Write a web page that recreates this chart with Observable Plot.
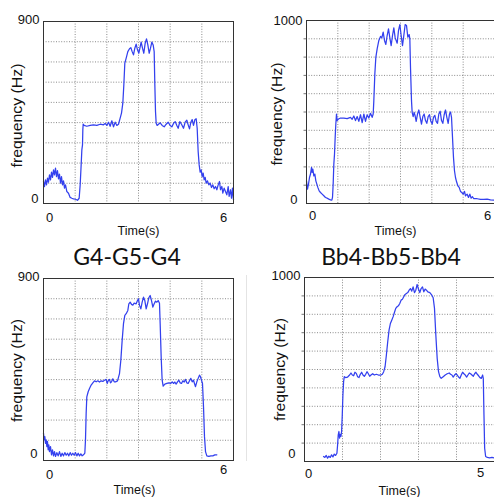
<!DOCTYPE html>
<html><head><meta charset="utf-8">
<script src="https://cdn.jsdelivr.net/npm/d3@7"></script>
<script src="https://cdn.jsdelivr.net/npm/@observablehq/plot@0.6"></script>
<style>
html,body{margin:0;padding:0;background:#fff;}
#root{position:relative;width:494px;height:497px;overflow:hidden;background:#fff;}
.panel{position:absolute;}
.title{position:absolute;font-family:Lato,"Open Sans",sans-serif;font-size:23px;line-height:23px;color:#111;white-space:nowrap;transform:translateX(-50%);}
.sep{position:absolute;left:246px;top:275px;width:1px;height:186px;background:#e4e4e4;}
</style></head><body><div id="root"></div>
<script>
// ---- data (time in s, frequency in Hz) ----
const titles = ["", "", "G4-G5-G4", "Bb4-Bb5-Bb4"];
const xTickLabels = [["0","6"],["0","6"],["0","6"],["0","5"]];
const yTickLabels = [[0,900],[0,1000],[0,900],[0,1000]];
const xGridLines = [[1,2,3,4,5],[1,2,3,4,5],[1,2,3,4,5],[1,2,3,4]];
const yGridLines = [
  [100,200,300,400,500,600,700,800],
  [100,200,300,400,500,600,700,800,900],
  [100,200,300,400,500,600,700,800],
  [100,200,300,400,500,600,700,800,900]
];

const traceA = [[0,109],[0.032,84],[0.063,117],[0.095,92],[0.126,125],[0.158,105],[0.189,142],[0.221,117],[0.253,155],[0.284,129],
[0.316,166],[0.347,142],[0.379,175],[0.411,133],[0.442,162],[0.474,122],[0.505,145],[0.537,101],[0.568,133],[0.6,92],
[0.632,112],[0.663,76],[0.695,92],[0.737,59],[0.789,51],[0.842,30],[0.895,26],[0.947,23],[1.011,21],[1.074,16],
[1.126,26],[1.158,92],[1.189,191],[1.211,265],[1.232,290],[1.242,364],[1.253,392],[1.284,386],[1.368,382],[1.474,386],
[1.579,389],[1.684,386],[1.789,392],[1.895,389],[1.947,396],[2.0,386],[2.053,402],[2.105,382],[2.158,409],[2.211,379],
[2.263,402],[2.316,386],[2.368,392],[2.421,422],[2.463,447],[2.505,496],[2.537,587],[2.568,694],[2.611,719],[2.663,751],
[2.716,765],[2.758,771],[2.8,751],[2.842,735],[2.884,768],[2.926,788],[2.968,760],[3.011,743],[3.053,776],[3.084,798],
[3.126,768],[3.168,743],[3.211,793],[3.253,814],[3.295,784],[3.337,743],[3.379,768],[3.421,798],[3.463,784],[3.495,751],
[3.516,587],[3.537,455],[3.558,397],[3.589,386],[3.632,392],[3.684,399],[3.747,386],[3.811,379],[3.874,392],[3.937,402],
[4.0,386],[4.053,379],[4.105,396],[4.158,405],[4.211,386],[4.253,372],[4.305,405],[4.358,392],[4.421,372],[4.474,402],
[4.526,412],[4.568,389],[4.611,369],[4.653,402],[4.695,415],[4.737,386],[4.779,414],[4.821,419],[4.853,372],[4.884,257],
[4.916,191],[4.947,155],[4.979,166],[5.011,133],[5.042,150],[5.074,117],[5.105,129],[5.137,101],[5.179,112],[5.221,92],
[5.263,101],[5.305,79],[5.347,92],[5.389,73],[5.432,84],[5.474,68],[5.516,92],[5.558,109],[5.589,68],[5.632,84],
[5.663,51],[5.705,76],[5.747,59],[5.789,43],[5.832,84],[5.863,35],[5.905,68],[5.937,26],[5.968,76],[6.0,18]];

const traceB = [[0,124],[0.032,78],[0.064,106],[0.096,142],[0.128,161],[0.16,197],[0.181,170],[0.202,188],[0.234,151],[0.266,161],
[0.298,124],[0.33,106],[0.362,88],[0.404,69],[0.447,60],[0.5,51],[0.553,42],[0.606,33],[0.66,29],[0.713,24],
[0.766,20],[0.809,18],[0.83,33],[0.851,106],[0.872,215],[0.894,270],[0.915,361],[0.936,434],[0.957,489],[0.979,453],
[1.021,462],[1.085,467],[1.191,467],[1.298,464],[1.404,471],[1.457,460],[1.511,478],[1.564,453],[1.617,475],[1.67,449],
[1.723,485],[1.777,442],[1.83,489],[1.883,449],[1.936,485],[1.989,467],[2.043,493],[2.096,471],[2.128,489],[2.149,562],
[2.181,708],[2.213,799],[2.255,845],[2.309,891],[2.362,913],[2.404,905],[2.447,936],[2.489,891],[2.532,869],[2.574,918],
[2.617,954],[2.66,905],[2.702,863],[2.745,918],[2.787,960],[2.83,905],[2.894,876],[2.936,945],[2.979,978],[3.021,918],
[3.064,863],[3.106,918],[3.149,978],[3.191,973],[3.234,909],[3.277,923],[3.298,900],[3.319,745],[3.351,562],[3.372,498],
[3.404,475],[3.436,498],[3.468,478],[3.5,449],[3.543,489],[3.585,511],[3.628,471],[3.67,434],[3.713,475],[3.755,489],
[3.798,453],[3.84,438],[3.883,475],[3.926,485],[3.968,449],[4.011,434],[4.053,471],[4.096,482],[4.138,449],[4.181,438],
[4.223,489],[4.266,504],[4.309,453],[4.351,438],[4.394,485],[4.436,511],[4.479,471],[4.521,438],[4.564,489],[4.596,500],
[4.628,471],[4.66,361],[4.691,252],[4.723,179],[4.755,142],[4.787,120],[4.83,97],[4.872,88],[4.915,66],[4.957,60],
[5.0,51],[5.043,66],[5.074,42],[5.128,51],[5.17,33],[5.213,51],[5.255,29],[5.298,37],[5.34,26],[5.447,26],
[5.553,22],[5.66,22],[5.766,24],[5.872,20],[6.0,18]];

const traceC = [[0,135],[0.021,102],[0.042,118],[0.063,85],[0.084,102],[0.105,69],[0.126,94],[0.147,53],[0.168,77],[0.189,44],
[0.221,69],[0.253,28],[0.284,53],[0.316,23],[0.347,44],[0.379,20],[0.421,39],[0.463,23],[0.505,44],[0.547,20],
[0.589,36],[0.632,23],[0.674,39],[0.716,26],[0.758,36],[0.8,23],[0.842,39],[0.884,26],[0.926,36],[0.968,26],
[1.011,39],[1.053,23],[1.095,36],[1.137,23],[1.179,33],[1.221,23],[1.263,28],[1.305,36],[1.326,102],[1.347,233],
[1.368,315],[1.411,340],[1.453,356],[1.505,373],[1.558,384],[1.611,394],[1.663,389],[1.716,394],[1.768,388],[1.821,394],
[1.874,391],[1.926,397],[1.979,401],[2.011,381],[2.042,394],[2.084,401],[2.116,384],[2.147,389],[2.189,404],[2.232,389],
[2.274,389],[2.337,394],[2.4,430],[2.442,496],[2.484,594],[2.526,677],[2.568,718],[2.611,726],[2.663,742],[2.695,775],
[2.737,783],[2.779,772],[2.821,768],[2.863,778],[2.926,775],[2.968,791],[3.0,800],[3.032,767],[3.074,750],[3.116,783],
[3.158,808],[3.2,791],[3.242,750],[3.284,775],[3.326,805],[3.368,816],[3.411,791],[3.453,759],[3.495,775],[3.537,788],
[3.579,783],[3.621,791],[3.663,778],[3.684,677],[3.716,512],[3.747,397],[3.779,368],[3.832,378],[3.895,381],[3.958,384],
[4.021,381],[4.063,389],[4.105,381],[4.147,388],[4.189,378],[4.232,389],[4.274,397],[4.316,384],[4.358,381],[4.4,394],
[4.442,388],[4.484,401],[4.526,384],[4.568,381],[4.611,394],[4.653,406],[4.695,389],[4.737,397],[4.768,381],[4.8,365],
[4.842,389],[4.884,406],[4.926,422],[4.958,414],[4.989,397],[5.021,381],[5.053,266],[5.084,118],[5.116,44],[5.158,23],
[5.221,20],[5.284,23],[5.347,23],[5.411,28],[5.474,28]];

const traceD = [[0.501,27],[0.536,22],[0.572,33],[0.607,18],[0.642,29],[0.677,22],[0.712,36],[0.748,25],[0.783,40],[0.818,33],
[0.853,45],[0.871,90],[0.888,145],[0.906,163],[0.923,127],[0.941,148],[0.959,136],[0.976,163],[0.994,253],[1.011,362],
[1.029,434],[1.047,461],[1.082,456],[1.135,459],[1.187,470],[1.223,481],[1.258,470],[1.293,466],[1.328,485],[1.363,479],
[1.398,461],[1.434,456],[1.469,474],[1.504,485],[1.539,470],[1.574,463],[1.61,474],[1.645,488],[1.68,477],[1.715,463],
[1.75,470],[1.794,477],[1.838,470],[1.891,474],[1.944,470],[2.014,470],[2.049,474],[2.084,488],[2.12,515],[2.155,579],
[2.19,651],[2.225,714],[2.26,750],[2.296,768],[2.331,786],[2.366,810],[2.401,832],[2.436,841],[2.471,846],[2.507,859],
[2.542,877],[2.577,882],[2.612,895],[2.647,908],[2.682,913],[2.718,918],[2.753,931],[2.788,940],[2.823,926],[2.858,949],
[2.894,918],[2.929,931],[2.964,962],[2.999,937],[3.034,918],[3.069,940],[3.105,949],[3.14,922],[3.175,937],[3.21,931],
[3.245,922],[3.298,918],[3.351,904],[3.386,890],[3.421,832],[3.456,687],[3.492,560],[3.527,488],[3.562,461],[3.597,452],
[3.65,461],[3.703,470],[3.755,477],[3.808,481],[3.843,474],[3.879,470],[3.914,459],[3.949,470],[3.984,477],[4.019,470],
[4.055,459],[4.09,452],[4.125,470],[4.16,485],[4.195,477],[4.23,470],[4.266,459],[4.301,470],[4.336,481],[4.371,477],
[4.406,470],[4.442,463],[4.477,477],[4.512,485],[4.547,474],[4.582,466],[4.618,456],[4.653,452],[4.688,470],[4.705,452],
[4.723,253],[4.741,72],[4.767,27],[4.811,22],[4.873,20],[4.934,22],[4.987,20]];

const traces = [traceA, traceB, traceC, traceD];
const xDomains = [[0,6],[0,6],[0,6],[0,5]];

// ---- layout / style ----
const layout = [
  {left:0,   top:0,   w:247, h:240, ml:43, mr:14, mt:21, mb:37, xPad:9, x1dy:0,  yTop:-2, yBot:-5, yPadTop:4, yPadBot:5, x0dx:6, x1dx:-10, tdx:0,  tdy:27, ylx:-26, yldy:3, ylLen:104, minor:false},
  {left:247, top:0,   w:247, h:240, ml:59, mr:0,  mt:20, mb:37, xPad:7, x1dy:0,  yTop:0,  yBot:-4, yPadTop:4, yPadBot:9, x0dx:6, x1dx:-7,  tdx:-5, tdy:27, ylx:-29, yldy:2, ylLen:103, minor:true},
  {left:0,   top:240, w:247, h:257, ml:43, mr:14, mt:38, mb:37, xPad:9, x1dy:-5, yTop:-2, yBot:-7, yPadTop:4, yPadBot:6, x0dx:6, x1dx:-10, tdx:-4, tdy:29, ylx:-26, yldy:1, ylLen:103, minor:false},
  {left:247, top:240, w:247, h:257, ml:57, mr:0,  mt:37, mb:36, xPad:7, x1dy:-1, yTop:-2, yBot:-8, yPadTop:4, yPadBot:9, x0dx:4, x1dx:-14, tdx:0,  tdy:29, ylx:-24, yldy:0, ylLen:103, minor:true}
];
const LINE = "#3340ee";
const root = document.getElementById("root");

traces.forEach((tr, i) => {
  const L = layout[i];
  const fmt = d => String(d);
  const marks = [
    Plot.gridX({ticks: xGridLines[i], stroke: "#8a8a8a", strokeOpacity: 1, strokeWidth: 1, strokeDasharray: "1,1.6"}),
    Plot.gridY({ticks: yGridLines[i], stroke: "#8a8a8a", strokeOpacity: 1, strokeWidth: 1, strokeDasharray: "1,1.6"}),
    Plot.line(tr, {x: d => d[0], y: d => d[1], stroke: LINE, strokeWidth: 1.25}),
    Plot.frame({stroke: "#333", strokeWidth: 1}),
    Plot.axisY({ticks: [yTickLabels[i][1]], tickSize: 0, tickPadding: L.yPadTop, dy: L.yTop, tickFormat: fmt, fontSize: 13, label: null}),
    Plot.axisY({ticks: [yTickLabels[i][0]], tickSize: 0, tickPadding: L.yPadBot, dy: L.yBot, tickFormat: fmt, fontSize: 13, label: null}),
    Plot.axisX({ticks: [xDomains[i][0]], tickSize: 0, tickPadding: L.xPad, dx: L.x0dx, tickFormat: () => xTickLabels[i][0], fontSize: 13, label: null}),
    Plot.axisX({ticks: [xDomains[i][1]], tickSize: 0, tickPadding: L.xPad, dx: L.x1dx, dy: L.x1dy, tickFormat: () => xTickLabels[i][1], fontSize: 13, label: null}),
    Plot.text(["Time(s)"], {frameAnchor: "bottom", dy: L.tdy, dx: L.tdx, lineAnchor: "middle", fontSize: 12.5, fill: "#111"}),
    Plot.text(["frequency (Hz)"], {frameAnchor: "left", dx: L.ylx, dy: L.yldy + L.ylLen / 2, rotate: -90, textAnchor: "start", lineAnchor: "middle", fontSize: 14, fill: "#111"})
  ];
  if (L.minor) marks.push(Plot.axisY({ticks: yGridLines[i], tickSize: 2.5, text: null, stroke: "#777", label: null}));
  const svg = Plot.plot({
    width: L.w, height: L.h,
    marginLeft: L.ml, marginRight: L.mr, marginTop: L.mt, marginBottom: L.mb,
    style: {fontFamily: "'Liberation Sans', Arial, sans-serif", fontSize: "13px", background: "transparent", overflow: "visible", color: "#111"},
    x: {domain: xDomains[i], label: null},
    y: {domain: [yTickLabels[i][0], yTickLabels[i][1]], label: null},
    marks
  });
  d3.select(svg).selectAll("text").filter(function() { return this.textContent === "frequency (Hz)"; })
    .attr("textLength", L.ylLen).attr("lengthAdjust", "spacingAndGlyphs");
  const div = document.createElement("div");
  div.className = "panel";
  div.style.left = L.left + "px";
  div.style.top = L.top + "px";
  div.style.width = L.w + "px";
  div.appendChild(svg);
  root.appendChild(div);
});

const sep = document.createElement("div");
sep.className = "sep";
root.appendChild(sep);

[[127, 2], [391, 3]].forEach(([cx, i]) => {
  const t = document.createElement("div");
  t.className = "title";
  t.style.left = cx + "px";
  t.style.top = "245px";
  t.textContent = titles[i];
  root.appendChild(t);
});
</script>
</body></html>
